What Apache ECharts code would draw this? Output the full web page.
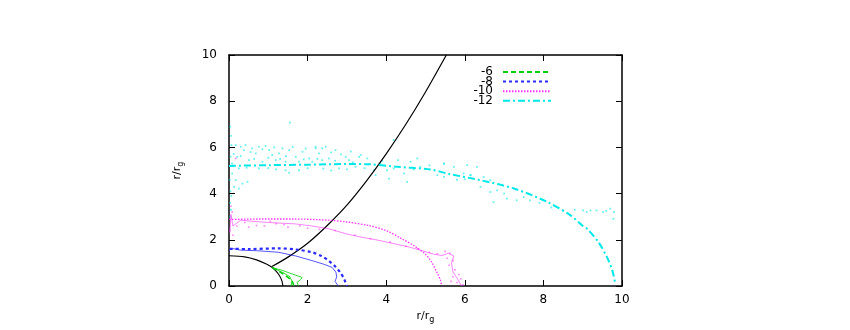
<!DOCTYPE html>
<html lang="en">
<head>
    <meta charset="UTF-8">
    <title>r/rg</title>
    <script src="https://cdn.jsdelivr.net/npm/echarts@6/dist/echarts.min.js"></script>
    <style>
        html, body {margin: 0; padding: 0; background: #fff;}
        #main {width: 850px; height: 330px;}
    </style>
</head>
<body>
<div id="main"></div>
<script>
    // tick labels
    let xTicks = [0, 2, 4, 6, 8, 10];
    let yTicks = [0, 2, 4, 6, 8, 10];
    let legendNames = ['-6', '-8', '-10', '-12'];

    // black curves
    let horizon = [[0, 1.31], [0.4, 1.26], [0.7, 1.13], [0.95, 0.95], [1.1, 0.8], [1.22, 0.6], [1.3, 0.4], [1.35, 0.2], [1.37, 0]];
    let funnel = [[1.09, 0.84], [1.5, 1.25], [2.0, 1.85], [2.5, 2.62], [3.0, 3.5], [3.5, 4.55], [4.0, 5.72], [4.5, 7.0],
        [5.0, 8.4], [5.53, 10]];

    // -6
    let g6 = [[1.1, 0.8], [1.3, 0.6], [1.44, 0.45], [1.56, 0.3], [1.61, 0.2], [1.65, 0]];
    let g6thin = [[1.1, 0.8], [1.35, 0.68], [1.61, 0.52], [1.86, 0.37], [1.82, 0.27], [1.73, 0.16], [1.77, 0]];
    let g6thin2 = [[1.1, 0.8], [1.4, 0.56], [1.55, 0.4], [1.6, 0.22], [1.58, 0]];

    // -8
    let b8 = [[0.02, 1.61], [0.5, 1.6], [1.26, 1.63], [1.7, 1.58], [2.11, 1.46], [2.35, 1.3], [2.53, 1.1], [2.7, 0.85], [2.83, 0.59], [2.93, 0.3], [3.0, 0]];
    let b8thin = [[0, 1.55], [0.1, 1.62], [0.3, 1.55], [0.7, 1.53], [1.26, 1.46], [1.7, 1.3], [2.11, 1.1], [2.4, 0.95], [2.62, 0.81],
        [2.72, 0.6], [2.74, 0.4], [2.7, 0.2], [2.78, 0]];

    // -10
    let m10 = [[0, 2.88], [0.8, 2.9], [1.6, 2.9], [2.53, 2.85], [3.0, 2.77], [3.55, 2.62], [4.0, 2.4], [4.4, 2.04], [4.7, 1.75],
        [4.99, 1.39], [5.15, 1.05], [5.29, 0.59], [5.38, 0.25], [5.41, 0]];
    let m10thin = [[0.02, 2.3], [0.05, 3.1], [0.1, 2.6], [0.3, 2.85], [0.6, 2.8], [1.0, 2.75], [1.3, 2.72], [1.68, 2.69], [2.1, 2.6],
        [2.53, 2.48], [3.0, 2.25], [3.38, 2.11], [3.8, 1.98], [4.23, 1.82], [4.6, 1.68], [4.91, 1.53], [5.2, 1.38], [5.42, 1.32],
        [5.58, 1.42], [5.72, 1.3], [5.66, 1.0], [5.7, 0.6], [5.8, 0.35], [5.92, 0]];
    let m10pts = [[0.17, 5.52], [0.05, 3.45], [0.08, 3.2], [0.03, 2.4], [0.1, 2.2], [0.2, 2.6], [0.5, 2.55], [0.9, 2.6], [1.2, 2.7],
        [1.5, 2.55], [2.0, 2.5], [2.3, 2.45], [5.5, 1.5], [5.62, 1.42], [5.55, 1.2], [5.7, 1.1], [5.6, 0.9], [5.75, 0.7], [5.85, 0.5],
        [5.7, 0.4], [5.9, 0.3], [5.8, 0.15], [5.95, 0.05], [5.65, 0.2], [0.4, 2.75], [0.7, 2.62], [1.05, 2.8], [1.4, 2.65],
        [1.8, 2.6], [2.7, 2.4], [3.2, 2.2], [3.6, 2.05], [4.1, 1.9], [4.5, 1.72], [4.8, 1.62], [5.1, 1.45], [5.3, 1.4]];

    // -12
    let c12 = [[0, 5.2], [1, 5.23], [2, 5.25], [3, 5.28], [3.55, 5.27], [4.2, 5.17], [5.13, 5.04], [5.6, 4.85], [6.4, 4.58],
        [7.25, 4.22], [8.1, 3.64], [8.69, 3.06], [8.99, 2.62], [9.11, 2.48], [9.4, 1.9], [9.62, 1.24], [9.75, 0.7], [9.83, 0.1]];
    let c12pts = [[0.17, 6.10], [0.30, 6.03], [0.42, 6.10], [0.38, 5.88], [0.59, 5.96], [0.76, 6.03], [0.93, 6.06], [0.68, 5.74],
        [1.02, 5.88], [1.10, 5.67], [1.27, 5.74], [1.36, 5.96], [1.53, 5.88], [1.70, 5.59], [1.87, 5.81], [2.04, 5.52], [2.21, 5.96],
        [2.29, 5.74], [2.46, 6.03], [0.21, 5.59], [0.51, 5.45], [0.85, 5.38], [1.19, 5.45], [1.44, 5.38], [1.78, 5.38], [2.12, 5.38],
        [2.37, 5.45], [0.25, 5.09], [0.76, 5.09], [1.44, 5.01], [1.53, 4.90], [1.78, 5.01], [0.17, 4.58], [0.34, 4.43], [0.47, 4.51],
        [0.13, 4.29], [0.25, 4.22], [0.08, 4.87], [0.08, 5.30], [2.2, 6.03], [2.37, 5.96], [2.71, 5.88], [2.97, 5.59], [2.54, 5.52],
        [3.31, 5.59], [3.05, 5.45], [3.22, 5.16], [2.8, 5.09], [4.19, 6.32], [3.52, 5.52], [3.69, 5.01], [4.02, 5.01], [4.19, 5.09],
        [4.45, 4.87], [4.62, 5.38], [4.79, 5.52], [4.87, 5.16], [4.07, 4.65], [4.53, 4.51], [5.47, 5.30], [6.31, 5.16], [6.15, 4.8],
        [6.65, 4.58], [3.85, 5.30], [3.73, 4.80], [3.35, 5.67], [5.47, 5.3], [5.72, 5.16], [6.06, 5.23], [5.97, 4.87], [6.14, 4.8],
        [6.48, 4.72], [5.47, 4.72], [6.82, 4.14], [6.73, 3.63], [7.07, 3.78], [7.32, 3.71], [7.66, 3.71], [8.5, 3.27], [9.01, 3.27],
        [9.35, 3.27], [9.52, 3.2], [9.78, 2.91], [6.4, 4.29], [6.65, 4.07], [9.2, 3.27], [9.7, 3.35], [9.8, 3.2],
        [0.03, 3.0], [0.05, 3.3], [0.03, 3.6], [0.06, 3.9], [0.04, 4.1], [0.05, 6.5], [0.03, 6.9], [1.55, 7.07],
        [0.55, 5.8], [0.85, 5.92], [1.15, 6.0], [1.45, 5.62], [1.62, 6.02], [1.95, 5.95], [2.6, 5.78], [2.85, 5.7], [3.1, 5.82],
        [0.12, 5.72], [0.3, 5.62], [0.64, 5.5], [1.0, 5.55], [1.3, 5.5], [1.9, 5.48], [2.25, 5.5], [2.7, 5.42], [3.15, 5.35],
        [0.45, 5.12], [1.0, 5.1], [1.2, 5.05], [2.0, 5.1], [2.4, 5.08], [2.6, 5.0], [3.0, 5.05], [3.45, 5.1], [3.9, 5.42],
        [4.3, 5.45], [4.7, 5.05], [5.1, 5.22], [5.3, 4.8], [5.8, 4.6], [6.0, 4.62], [7.0, 4.0], [7.5, 3.85], [7.9, 3.6],
        [8.2, 3.4], [8.8, 3.3], [9.1, 3.2], [9.6, 3.25], [0.02, 4.6], [0.04, 5.6], [0.06, 6.1]];

    let font = 'DejaVu Sans, Verdana, sans-serif';
    let colGreen = '#00d000', colBlue = '#2a2aff', colMagenta = '#ff30ff', colCyan = '#00e8e8';

    function lineSeries(name, data, color, width, type, smooth) {
        return {
            name: name, type: 'line', data: data, symbol: 'none', smooth: smooth || false,
            lineStyle: {color: color, width: width, type: type}, itemStyle: {color: color},
            silent: true, z: 3
        };
    }

    function dots(data, color, size) {
        return {
            type: 'scatter', data: data, symbol: 'rect', symbolSize: size,
            itemStyle: {color: color, opacity: 0.6}, silent: true, z: 2
        };
    }

    let axisCommon = {
        type: 'value', min: 0, max: 10, interval: 2,
        axisLine: {show: true, onZero: false, lineStyle: {color: '#000', width: 1.5}},
        axisTick: {show: true, inside: true, length: 6, lineStyle: {color: '#000', width: 1}},
        splitLine: {show: false}
    };
    let nameRich = {
        n: {fontSize: 11, fontFamily: font, color: '#000'},
        s: {fontSize: 8, fontFamily: font, color: '#000', padding: [7, 0, 0, 0]}
    };

    let myChart = echarts.init(document.getElementById('main'));
    let option = {
        animation: false,
        textStyle: {fontFamily: font},
        grid: {left: 229, right: 228, top: 55, bottom: 44},
        xAxis: [
            Object.assign({}, axisCommon, {
                position: 'bottom',
                axisLabel: {color: '#000', fontSize: 12, margin: 8, formatter: v => xTicks.indexOf(v) >= 0 ? v : ''},
                name: '{n|r/r}{s|g}', nameLocation: 'middle', nameGap: 22,
                nameTextStyle: {rich: nameRich}
            }),
            Object.assign({}, axisCommon, {position: 'top', axisLabel: {show: false}})
        ],
        yAxis: [
            Object.assign({}, axisCommon, {
                position: 'left',
                axisLabel: {color: '#000', fontSize: 12, margin: 12, formatter: v => yTicks.indexOf(v) >= 0 ? v : ''},
                name: '{n|r/r}{s|g}', nameLocation: 'middle', nameGap: 44,
                nameTextStyle: {rich: nameRich}
            }),
            Object.assign({}, axisCommon, {position: 'right', axisLabel: {show: false}})
        ],
        legend: legendNames.map(function (n, i) {
            return {
                data: [n], right: 298, top: 66 + i * 9.6, orient: 'vertical', align: 'right',
                itemWidth: 48, itemHeight: 9, padding: 0, selectedMode: false,
                itemStyle: {opacity: 0},
                textStyle: {fontSize: 12, color: '#000', padding: [0, 5, 0, 0]}
            };
        }),
        series: [
            dots(c12pts, colCyan, 1.8),
            dots(m10pts, colMagenta, 1.6),
            lineSeries('horizon', horizon, '#000', 1.1, 'solid', 0.3),
            lineSeries('funnel', funnel, '#000', 1.2, 'solid', 0.3),
            lineSeries('g6thin', g6thin, colGreen, 0.8, 'solid'),
            lineSeries('g6thin2', g6thin2, colGreen, 0.8, 'solid'),
            lineSeries('b8thin', b8thin, colBlue, 0.8, 'solid'),
            lineSeries('m10thin', m10thin, colMagenta, 0.6, 'solid'),
            lineSeries('-6', g6, colGreen, 1.6, [5, 3], 0.3),
            lineSeries('-8', b8, colBlue, 2.2, [3, 3], 0.3),
            lineSeries('-10', m10, colMagenta, 1.3, [1.5, 1.5], 0.3),
            lineSeries('-12', c12, colCyan, 2, [7, 3, 2, 3], 0.3)
        ]
    };
    myChart.setOption(option);
</script>
</body>
</html>
